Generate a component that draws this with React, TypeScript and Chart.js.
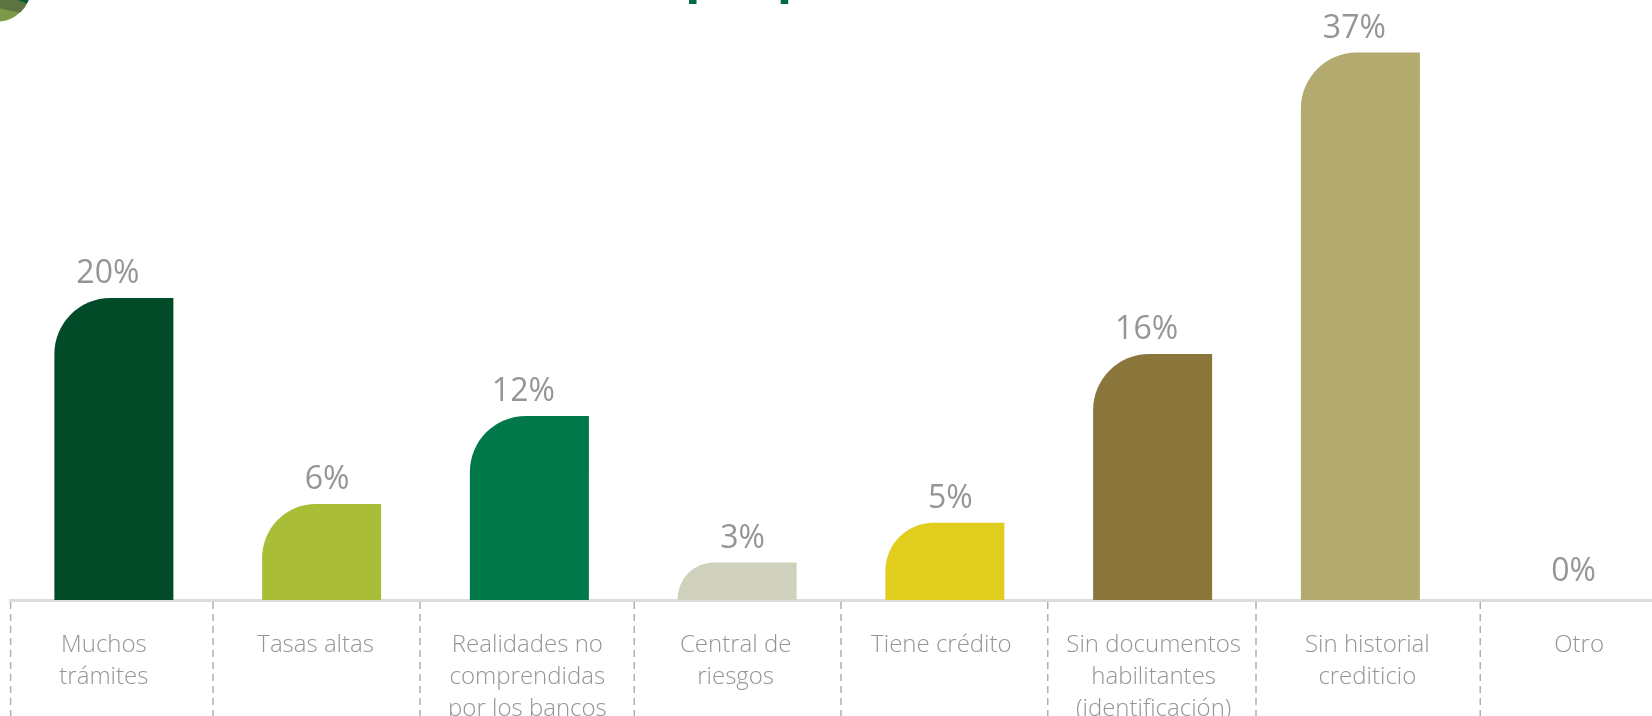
import React, { useEffect, useRef } from "react";
import { Chart, registerables } from "chart.js";

Chart.register(...registerables);

const categories: string[][] = [
  ["Muchos", "trámites"],
  ["Tasas altas"],
  ["Realidades no", "comprendidas", "por los bancos"],
  ["Central de", "riesgos"],
  ["Tiene crédito"],
  ["Sin documentos", "habilitantes", "(identificación)"],
  ["Sin historial", "crediticio"],
  ["Otro"],
];
const shareValues = [20.13, 6.4, 12.27, 2.5, 5.15, 16.4, 36.5, 0];
const shareLabels = ["20%", "6%", "12%", "3%", "5%", "16%", "37%", "0%"];
const barColors = ["#024b29", "#a9bd36", "#00784a", "#cfd1bc", "#e0cd1e", "#8a763b", "#b3aa6f", "#cccccc"];

const labelNudge = [-10, -6, -2, -1.5, -3.5, 1, 7, 11];
const gridNudge = [0.6, -4.7, -5.5, 1, 0, -1, -0.5, 16];

function drawBar(this: any, ctx: CanvasRenderingContext2D) {
  const { x, y, base, width } = this.getProps(["x", "y", "base", "width"], true);
  const h = base - y;
  if (h <= 0.5) return;
  const left = x - width / 2;
  const right = x + width / 2;
  const r = Math.min(56, 25 + 0.3 * h);
  const ry = Math.min(r, h);
  ctx.save();
  ctx.fillStyle = this.options.backgroundColor;
  ctx.beginPath();
  ctx.moveTo(left, base);
  ctx.lineTo(left, y + ry);
  ctx.ellipse(left + r, y + ry, r, ry, 0, Math.PI, Math.PI * 1.5);
  ctx.lineTo(right, y);
  ctx.lineTo(right, base);
  ctx.closePath();
  ctx.fill();
  ctx.restore();
}

function polygon(ctx: CanvasRenderingContext2D, color: string, pts: number[][]) {
  ctx.fillStyle = color;
  ctx.beginPath();
  pts.forEach(([a, b], i) => (i ? ctx.lineTo(a, b) : ctx.moveTo(a, b)));
  ctx.closePath();
  ctx.fill();
}

const shapePlugin = {
  id: "shape",
  beforeDatasetsDraw(chart: any) {
    chart.getDatasetMeta(0).data.forEach((bar: any) => {
      bar.draw = drawBar;
    });
  },
  beforeDraw(chart: any) {
    const x = chart.scales.x;
    x.getLabelItems().forEach((item: any, i: number) => {
      item.options.translation[0] = x.getPixelForTick(i) + labelNudge[i];
    });
  },
  afterDatasetsDraw(chart: any) {
    const { ctx } = chart;
    ctx.save();
    ctx.font = "400 32px 'Open Sans'";
    ctx.fillStyle = "#939598";
    ctx.textAlign = "center";
    ctx.textBaseline = "middle";
    chart.getDatasetMeta(0).data.forEach((bar: any, i: number) => {
      const lift = shareValues[i] === 0 ? 28 : 24;
      const shift = shareLabels[i].length === 3 ? -6 : 5.5;
      ctx.fillText(shareLabels[i], bar.x + shift, bar.y - lift);
    });
    ctx.restore();
  },
  afterDraw(chart: any) {
    const x = chart.scales.x;
    const { ctx, chartArea } = chart;
    ctx.save();
    ctx.strokeStyle = "#b0b0b0";
    ctx.lineWidth = 1.5;
    ctx.setLineDash([7, 5]);
    for (let i = 0; i < categories.length; i++) {
      const px = x.getPixelForTick(i) - (x.getPixelForTick(1) - x.getPixelForTick(0)) / 2 + gridNudge[i];
      ctx.beginPath();
      ctx.moveTo(px, chartArea.bottom + 2);
      ctx.lineTo(px, chart.height);
      ctx.stroke();
    }
    ctx.restore();

    // cropped logo in the corner and the cropped stems of the page heading
    ctx.save();
    ctx.beginPath();
    ctx.arc(-3, -12, 33.7, 0, Math.PI * 2);
    ctx.clip();
    polygon(ctx, "#7a9a47", [[0, 0], [40, 0], [40, 40], [0, 40]]);
    polygon(ctx, "#5d7341", [[0, 0], [40, 0], [40, 17], [0, 8.5]]);
    polygon(ctx, "#0b5a36", [[18, 0], [40, 0], [40, 9]]);
    ctx.restore();
    ctx.fillStyle = "#00694a";
    ctx.fillRect(689, 0, 7.5, 4);
    ctx.fillRect(780.7, 0, 7.5, 4);
  },
};

export default function App() {
  const ref = useRef<HTMLCanvasElement>(null);
  useEffect(() => {
    const chart = new Chart(ref.current!, {
      type: "bar",
      data: {
        labels: categories,
        datasets: [
          {
            data: shareValues,
            backgroundColor: barColors,
            barThickness: 119,
            borderWidth: 0,
          },
        ],
      },
      options: {
        animation: false,
        responsive: false,
        layout: { padding: { left: 10, right: 0, top: 0, bottom: 0 } },
        plugins: { legend: { display: false }, tooltip: { enabled: false } },
        scales: {
          x: {
            offset: true,
            afterFit(scale: any) {
              scale.height = 116;
            },
            border: { display: true, color: "#dcdcdc", width: 3 },
            grid: { display: false },
            ticks: {
              autoSkip: false,
              maxRotation: 0,
              minRotation: 0,
              padding: 21,
              color: "#939598",
              font: { family: "'Open Sans'", size: 24, weight: "300", lineHeight: 1.33 },
            },
          },
          y: { display: false, min: 0, max: 40 },
        },
      } as any,
      plugins: [shapePlugin],
    });
    return () => chart.destroy();
  }, []);
  return (
    <div style={{ position: "fixed", left: 0, top: 0, width: 1652, height: 716, background: "#fff", overflow: "hidden" }}>
      <canvas ref={ref} width={1672} height={716} style={{ display: "block" }} />
    </div>
  );
}
